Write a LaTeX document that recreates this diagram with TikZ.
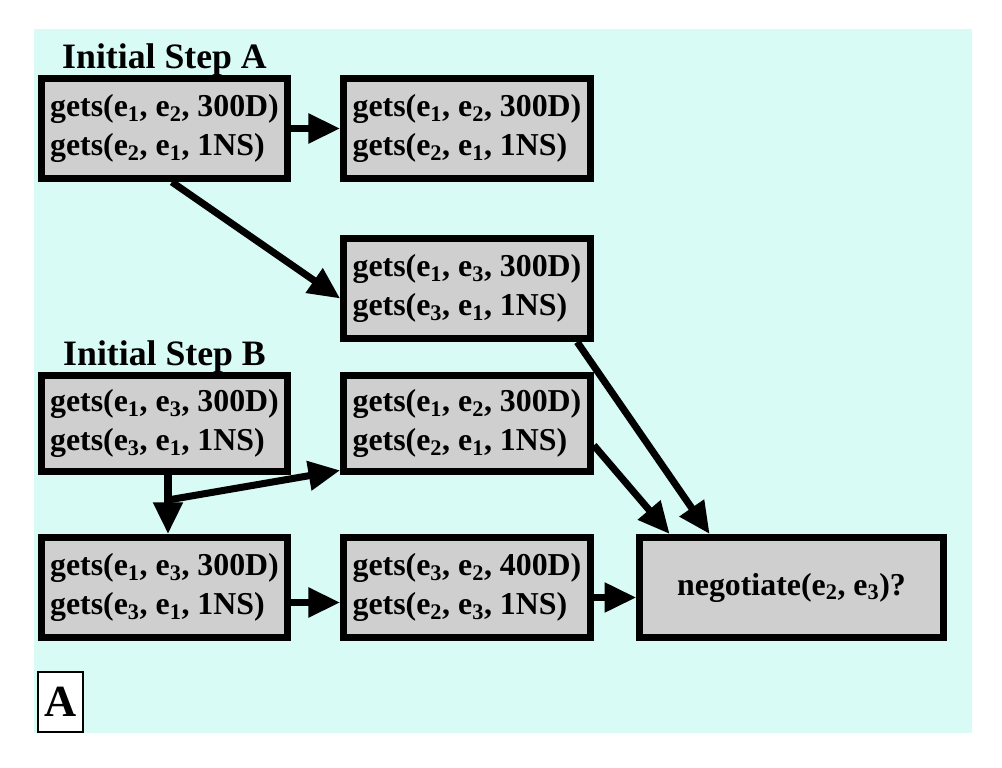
\documentclass[tikz,border=0pt]{standalone}
\usepackage{fontspec}
\setmainfont{Liberation Serif}
\usetikzlibrary{arrows.meta,positioning}
\definecolor{bgcyan}{RGB}{217,251,245}
\definecolor{boxgray}{RGB}{207,207,207}
\newcommand{\ent}[1]{e\textsubscript{#1}}

\begin{document}
\begin{tikzpicture}[x=0.03cm, y=-0.03cm,
    fact/.style = {rectangle, draw=black, fill=boxgray, line width=6pt, minimum width=7.4cm, minimum height=3.0cm, align=left, inner sep=1pt, font=\bfseries\fontsize{27.2}{33.5}\selectfont},
    steplabel/.style = {anchor=base, inner sep=0pt, font=\bfseries\fontsize{30.5}{36}\selectfont},
    arr/.style = {line width=6pt, -{Triangle[length=0.95cm, width=0.85cm]}}]
    \useasboundingbox (0,0) rectangle (1002,768);
    \fill[bgcyan] (34,29) rectangle (972,733);

    % step A
    \node[fact] (a1) at (164.5,128.5) {gets(\ent1, \ent2, 300D)\\gets(\ent2, \ent1, 1NS)};
    \node[fact] (a2) at (467,128.5) {gets(\ent1, \ent2, 300D)\\gets(\ent2, \ent1, 1NS)};
    \node[fact] (a3) at (467,288.5) {gets(\ent1, \ent3, 300D)\\gets(\ent3, \ent1, 1NS)};
    \node[steplabel] (labA) at ([yshift=0.18cm]a1.north) {Initial Step A};

    % step B
    \node[fact, minimum height=2.9cm] (b1) at (164.5,423.5) {gets(\ent1, \ent3, 300D)\\gets(\ent3, \ent1, 1NS)};
    \node[fact, minimum height=2.9cm] (b2) at (467,423.5) {gets(\ent1, \ent2, 300D)\\gets(\ent2, \ent1, 1NS)};
    \node[steplabel] (labB) at ([yshift=0.18cm]b1.north) {Initial Step B};
    \node[fact] (c1) at (164.5,587.5) {gets(\ent1, \ent3, 300D)\\gets(\ent3, \ent1, 1NS)};
    \node[fact] (c2) at (467,587.5) {gets(\ent3, \ent2, 400D)\\gets(\ent2, \ent3, 1NS)};
    \node[fact, minimum width=9.1cm] (neg) at (791.5,587.5) {negotiate(\ent2, \ent3)?};

    \node[draw, line width=1.5pt, fill=white, minimum width=1.36cm, minimum height=1.81cm, inner sep=0pt, font=\bfseries\fontsize{38}{40}\selectfont] (tag) at (60.5,702) {A};

    \coordinate (split) at (168,500);

    \draw[arr] (a1) -- (a2);
    \draw[arr] ([xshift=0.22cm]a1.south) -- ([yshift=-0.3cm]a3.west);
    \draw[arr] ([xshift=-0.5cm]a3.south east) -- ([xshift=2.2cm]neg.north west);
    \draw[arr] ([yshift=0.9cm]b2.south east) -- ([xshift=1.0cm]neg.north west);
    \draw[line width=6pt] (b1.south -| split) -- (split);
    \draw[arr] (split) -- (c1.north -| split);
    \draw[arr] (split) -- ([yshift=0.15cm]b2.south west);
    \draw[arr] ([yshift=-0.45cm]c1.east) -- ([yshift=-0.45cm]c2.west);
    \draw[arr] ([yshift=-0.3cm]c2.east) -- ([yshift=-0.3cm]neg.west);
\end{tikzpicture}
\end{document}
